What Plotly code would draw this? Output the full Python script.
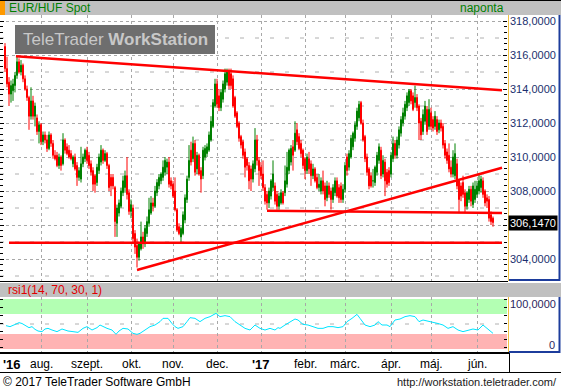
import plotly.graph_objects as go
import pandas as pd

# ---------------- data ----------------
dates = pd.bdate_range("2016-07-06", periods=245)

opens = [316.5, 315.2, 314.4, 313.7, 313.9, 314.2, 314.8, 315.6, 315.0, 315.4,
         314.6, 314.0, 313.5, 312.4, 313.3, 312.4, 312.3, 311.5, 311.9, 310.9,
         311.3, 311.0, 310.5, 311.3, 310.8, 310.1, 310.1, 309.5, 310.0, 309.6,
         311.0, 310.6, 310.4, 310.2, 309.6, 310.0, 309.5, 308.8, 308.7, 309.6,
         309.9, 310.4, 310.1, 309.6, 309.2, 308.9, 308.5, 309.2, 309.7, 310.4,
         309.8, 310.2, 309.5, 308.8, 308.8, 308.2, 306.1, 306.7, 307.1, 307.9,
         308.2, 308.9, 307.9, 306.8, 307.0, 305.5, 304.8, 304.1, 304.6, 305.3,
         304.9, 305.5, 306.1, 306.7, 307.3, 307.1, 307.9, 308.3, 308.6, 308.8,
         309.1, 309.4, 309.7, 308.6, 308.4, 308.0, 306.9, 305.9, 305.3, 305.5,
         306.3, 307.5, 308.8, 310.4, 309.9, 310.8, 309.3, 310.1, 309.2, 308.9,
         310.0, 310.2, 310.4, 311.0, 311.8, 313.0, 314.3, 313.6, 312.9, 313.4,
         314.0, 314.4, 315.0, 314.9, 314.6, 313.5, 312.6, 312.0, 311.2, 310.9,
         310.3, 309.9, 309.5, 309.3, 308.7, 309.3, 311.0, 309.8, 309.4, 309.0,
         308.2, 307.8, 307.3, 307.7, 308.2, 308.3, 307.8, 307.1, 307.3, 307.9,
         307.9, 308.4, 309.2, 309.7, 310.6, 310.4, 311.6, 311.2, 310.8, 310.4,
         309.9, 309.2, 309.9, 309.6, 308.9, 309.3, 308.8, 308.2, 308.0, 308.6,
         308.3, 307.6, 308.3, 308.0, 307.5, 307.9, 308.6, 308.2, 308.3, 307.5,
         308.1, 310.0, 309.4, 310.0, 310.6, 311.1, 311.8, 312.3, 313.2, 312.0,
         311.2, 310.0, 309.3, 308.9, 308.6, 308.5, 309.1, 309.8, 310.4, 309.0,
         309.7, 309.1, 309.2, 309.0, 309.9, 310.8, 310.1, 310.7, 311.4, 312.0,
         312.4, 312.9, 313.2, 313.9, 313.6, 313.2, 313.5, 313.0, 312.1, 311.5,
         312.1, 312.8, 311.8, 312.6, 312.2, 311.8, 312.2, 311.6, 312.0, 311.8,
         310.8, 310.3, 310.1, 309.4, 309.0, 308.9, 309.6, 308.6, 308.3, 308.5,
         307.9, 307.1, 307.5, 308.1, 307.2, 307.5, 307.8, 308.0, 308.2, 308.6,
         308.0, 307.6, 307.5, 306.6, 306.4]

highs = [316.7, 315.9, 314.7, 314.5, 314.6, 315.0, 315.9, 315.8, 315.7, 315.5,
         314.8, 314.2, 313.6, 314.1, 313.6, 313.2, 312.5, 312.1, 312.0, 311.5,
         311.5, 311.3, 311.5, 311.4, 311.0, 310.4, 310.3, 310.2, 310.1, 311.4,
         311.1, 310.8, 310.7, 310.4, 310.1, 310.2, 309.7, 309.4, 310.6, 310.2,
         310.5, 310.6, 310.3, 309.8, 309.4, 309.0, 309.6, 310.2, 310.7, 310.5,
         310.4, 310.3, 309.6, 309.0, 309.0, 308.3, 307.2, 307.5, 308.2, 308.9,
         309.2, 310.0, 308.1, 307.5, 307.2, 305.7, 305.2, 305.0, 306.2, 305.6,
         306.0, 306.5, 307.6, 307.7, 307.6, 308.3, 308.7, 309.0, 309.1, 309.8,
         310.0, 309.9, 310.0, 308.8, 308.6, 308.8, 307.0, 306.1, 305.9, 306.8,
         307.8, 308.9, 310.7, 310.9, 311.2, 311.0, 310.3, 310.2, 309.4, 310.6,
         310.7, 310.8, 311.5, 312.4, 313.4, 314.6, 314.6, 314.0, 314.0, 314.5,
         315.2, 315.2, 315.2, 315.2, 314.8, 313.6, 312.7, 312.1, 311.3, 311.0,
         310.5, 310.0, 309.7, 309.5, 309.8, 311.7, 311.3, 310.0, 309.7, 309.8,
         308.4, 308.0, 308.2, 308.7, 309.8, 308.5, 308.0, 307.9, 308.1, 308.0,
         309.5, 310.3, 310.5, 310.7, 311.0, 312.1, 312.0, 311.4, 311.0, 310.5,
         310.0, 310.2, 310.3, 309.8, 309.6, 309.4, 309.0, 309.0, 308.8, 309.2,
         308.5, 308.6, 308.5, 308.2, 308.4, 308.8, 308.8, 308.4, 308.5, 308.4,
         309.7, 310.2, 310.4, 311.3, 311.5, 312.1, 312.9, 313.3, 313.3, 312.2,
         311.3, 310.2, 309.4, 309.1, 309.3, 309.5, 310.3, 310.8, 310.6, 310.1,
         309.9, 309.3, 309.4, 310.3, 311.2, 311.0, 311.2, 311.8, 312.4, 312.9,
         313.3, 313.8, 314.0, 314.0, 313.8, 314.2, 313.7, 313.1, 312.3, 312.8,
         313.3, 313.0, 313.4, 312.9, 312.4, 312.7, 312.4, 312.2, 312.2, 312.0,
         311.0, 310.5, 310.8, 309.8, 310.4, 310.8, 309.9, 308.7, 308.5, 308.9,
         308.1, 308.0, 308.3, 308.3, 308.5, 308.6, 308.6, 309.0, 308.9, 308.8,
         308.1, 307.8, 307.7, 306.8, 306.5]

lows = [315.0, 314.1, 313.0, 313.2, 313.3, 313.8, 314.6, 314.9, 314.8, 314.4,
        313.9, 313.3, 311.6, 312.2, 312.2, 311.8, 311.3, 310.8, 310.7, 310.7,
        310.8, 310.3, 310.4, 310.6, 309.9, 309.8, 309.4, 309.3, 309.2, 309.5,
        310.2, 310.1, 309.9, 309.8, 309.4, 309.2, 308.3, 308.6, 308.5, 309.4,
        309.7, 309.6, 309.3, 308.9, 308.0, 307.9, 308.3, 309.0, 309.5, 309.6,
        309.7, 309.3, 308.0, 307.7, 308.1, 305.3, 305.3, 306.5, 307.0, 307.7,
        307.9, 307.5, 306.6, 306.4, 305.0, 304.3, 303.5, 303.9, 304.5, 304.6,
        304.7, 305.3, 305.9, 306.6, 306.8, 307.0, 307.7, 308.1, 308.4, 308.6,
        308.9, 309.0, 308.2, 308.1, 307.6, 306.8, 305.6, 305.4, 305.0, 305.4,
        306.1, 307.3, 308.6, 309.5, 309.7, 308.9, 309.0, 308.9, 307.9, 308.7,
        309.8, 310.0, 310.3, 310.9, 311.7, 312.9, 312.9, 312.7, 312.7, 313.2,
        313.8, 314.2, 314.0, 314.0, 312.9, 312.3, 311.7, 310.9, 310.5, 309.9,
        308.8, 309.2, 308.1, 308.0, 308.5, 309.1, 309.5, 308.3, 308.7, 308.0,
        307.2, 306.9, 307.0, 307.5, 308.0, 307.2, 306.9, 306.9, 307.2, 307.2,
        307.7, 308.2, 309.0, 309.5, 309.2, 310.3, 310.7, 310.4, 310.0, 309.3,
        308.7, 309.0, 309.0, 308.3, 308.7, 308.5, 308.1, 308.0, 307.8, 307.8,
        307.1, 307.4, 307.6, 306.9, 307.3, 307.7, 307.6, 307.3, 307.3, 307.3,
        307.9, 308.9, 309.2, 309.9, 310.4, 310.9, 311.6, 312.1, 311.9, 310.9,
        309.7, 308.9, 308.1, 308.2, 308.2, 308.3, 308.9, 309.6, 308.7, 308.8,
        307.7, 308.2, 308.3, 308.8, 309.7, 309.9, 309.9, 310.5, 311.2, 311.8,
        312.2, 312.7, 313.0, 313.1, 312.7, 312.9, 312.7, 311.0, 311.0, 311.3,
        311.9, 311.3, 311.6, 311.6, 311.5, 311.6, 311.3, 311.4, 311.5, 310.5,
        309.9, 309.6, 309.1, 308.8, 308.8, 308.7, 308.1, 306.7, 307.4, 307.6,
        306.7, 306.9, 307.3, 307.1, 307.0, 307.3, 307.6, 307.8, 307.9, 307.6,
        307.1, 307.0, 306.2, 306.0, 305.9]

closes = [315.2, 314.3, 313.7, 314.2, 314.3, 314.8, 315.6, 315.0, 315.4, 314.6,
          314.0, 313.5, 312.4, 313.3, 312.4, 313.0, 311.5, 311.9, 310.9, 311.3,
          311.0, 310.5, 311.3, 310.8, 310.1, 309.9, 309.5, 310.0, 309.5, 311.0,
          310.4, 310.2, 310.0, 309.9, 310.0, 309.3, 308.8, 309.2, 309.6, 310.0,
          310.4, 309.8, 309.5, 309.1, 308.4, 308.4, 309.4, 310.0, 310.4, 309.8,
          310.2, 309.5, 308.2, 308.3, 308.3, 306.2, 307.0, 307.3, 308.0, 308.6,
          308.9, 307.8, 306.8, 307.2, 305.2, 304.7, 304.1, 304.9, 305.3, 304.9,
          305.8, 306.2, 306.9, 307.3, 307.1, 308.0, 308.5, 308.8, 309.0, 309.4,
          309.8, 309.7, 308.4, 308.3, 307.7, 306.9, 305.7, 305.5, 305.8, 306.6,
          307.6, 308.7, 309.8, 309.7, 310.8, 309.1, 310.1, 309.0, 308.7, 310.4,
          310.5, 310.6, 311.3, 312.1, 313.2, 314.3, 313.1, 312.9, 313.8, 314.3,
          314.9, 315.0, 314.2, 314.2, 313.0, 312.4, 311.8, 311.1, 310.7, 310.1,
          309.4, 309.5, 308.6, 308.7, 309.6, 311.0, 309.8, 309.2, 308.9, 308.2,
          307.4, 307.3, 308.0, 308.6, 309.0, 307.4, 307.1, 307.7, 307.9, 307.3,
          308.6, 309.4, 310.4, 310.5, 310.1, 311.4, 310.9, 310.5, 310.2, 309.5,
          309.2, 310.0, 309.3, 308.9, 309.3, 308.6, 308.2, 308.4, 308.6, 308.0,
          307.5, 308.3, 307.8, 307.5, 308.2, 308.6, 307.7, 307.6, 307.5, 308.1,
          309.5, 309.2, 310.2, 311.1, 311.4, 311.9, 312.7, 313.1, 312.0, 311.0,
          309.9, 309.1, 308.3, 308.3, 308.6, 309.4, 310.1, 310.6, 308.9, 309.8,
          308.6, 308.4, 308.5, 310.1, 310.8, 310.1, 311.0, 311.6, 312.2, 312.6,
          313.1, 313.6, 313.9, 313.3, 312.8, 313.5, 312.9, 312.0, 311.3, 312.5,
          313.0, 311.5, 312.8, 311.8, 311.7, 312.4, 311.5, 312.0, 311.7, 310.7,
          310.1, 309.8, 309.3, 309.0, 310.0, 310.2, 308.3, 307.5, 307.7, 307.8,
          307.1, 307.9, 308.1, 307.4, 308.3, 308.1, 308.3, 308.6, 308.7, 307.8,
          307.3, 307.4, 306.4, 306.2, 306.147]

# RSI(14) line, read at sampled candle positions
rsi_pos = [0.5, 2.5, 5, 7, 8.5, 10, 12, 13.5, 15, 16.5, 18.5, 20, 21.5, 23.5, 26, 28.5, 30, 31.5,
           34, 36.5, 39, 41, 43.5, 46, 47.5, 49, 51, 53.5, 55.5, 57, 59, 61.5, 64, 66, 67.5, 70,
           72.5, 75, 77.5, 79, 81.5, 83.5, 85, 86.5, 89, 91, 92.5, 95, 97.5, 100, 102.5, 105.5,
           107.5, 110, 112.5, 115, 117.5, 120, 122.5, 125, 127.5, 130, 132.5, 135, 136.5, 137.5,
           140, 142.5, 145, 146.5, 149, 151.5, 154, 156.5, 159, 161.5, 164, 166.5, 169, 171,
           173.5, 176, 177.5, 180, 182.5, 185, 186.5, 188.5, 191, 192.5, 195, 197.5, 200, 202.5,
           205, 207, 209, 211.5, 214, 216.5, 219, 221.5, 224, 226.5, 229, 231.5, 234, 236.5,
           239, 241, 243.5, 244]
rsi_val = [46.7, 44.7, 49, 52.7, 51, 48, 42.7, 44.7, 39.3, 36, 34.7, 40, 41.3, 38, 34.7, 40, 38, 36,
           34.7, 33.3, 41.3, 44.7, 38, 42.7, 48, 44.7, 41.3, 38, 29.3, 36, 41.3, 40, 31.3, 29.3, 31.3, 38,
           44.7, 48, 54.7, 61.3, 61.3, 51, 44.7, 41.3, 44.7, 54.7, 62.7, 61.3, 54.7, 61.3, 64.7, 71.3,
           64.7, 66.7, 64.7, 54.7, 48, 41.3, 38, 48, 41.3, 38, 41.3, 38, 42.7, 41.3,
           48, 54.7, 60, 58, 49.3, 48, 44.7, 41.3, 41.3, 44.7, 44.7, 42.7, 44.7, 54.7,
           61.3, 69.3, 61.3, 48, 44.7, 48, 54.7, 48, 48, 44.7, 58, 60, 64.7, 66.7,
           64.7, 54.7, 58, 56, 52.7, 51, 48, 41.3, 44.7, 38, 34.7, 38, 40, 38,
           48, 41.3, 31.3, 31.3]

# trend lines drawn on the chart: (candle position, price) end points
trend_top = [(5.5, 315.93), (248.5, 313.93)]
trend_up = [(66, 303.35), (248.5, 309.37)]
support_low = [(2, 304.96), (248.5, 304.96)]
support_mid = [(131, 306.84), (248.5, 306.70)]

price_ticks = [304, 306, 308, 310, 312, 314, 316, 318]
month_names = {7: "'16", 8: "aug.", 9: "szept.", 10: "okt.", 11: "nov.", 12: "dec.",
               1: "'17", 2: "febr.", 3: "márc.", 4: "ápr.", 5: "máj.", 6: "jún."}
last_price = 306.147

# ---------------- layout helpers ----------------
W, H = 561, 390
FONT = "Liberation Sans, Arial, sans-serif"
Y_RANGE = [302.706, 318.353]


def px(x):
    return x / W


def py(y):
    return 1 - y / H


idx = list(range(len(closes)))
month_pos = []
month_lab = []
prev = None
for i, d in enumerate(dates):
    if d.month != prev:
        if i > 0:
            month_pos.append(i)
            month_lab.append(month_names[d.month])
        prev = d.month

X_RANGE = [-2.5, 251]
PLOT_R = 507

fig = go.Figure()
fig.add_trace(go.Candlestick(
    x=idx, open=opens, high=highs, low=lows, close=closes,
    increasing=dict(line=dict(color="#008000", width=1), fillcolor="#008000"),
    decreasing=dict(line=dict(color="#ff0000", width=1), fillcolor="#ff0000"),
    whiskerwidth=0, hoverinfo="skip", xaxis="x", yaxis="y", showlegend=False))
fig.add_trace(go.Scatter(
    x=rsi_pos, y=rsi_val, mode="lines", line=dict(color="#00e5ff", width=1),
    hoverinfo="skip", xaxis="x2", yaxis="y2", showlegend=False))

shapes = []
# header bars
shapes.append(dict(type="rect", xref="paper", yref="paper", x0=0, x1=1, y0=py(15), y1=py(0),
                   fillcolor="#c0c0c0", line=dict(width=0), layer="below"))
shapes.append(dict(type="rect", xref="paper", yref="paper", x0=0, x1=px(5), y0=py(15), y1=py(0),
                   fillcolor="#ff9900", line=dict(width=0), layer="below"))
shapes.append(dict(type="line", xref="paper", yref="paper", x0=0, x1=1, y0=py(0.5), y1=py(0.5),
                   line=dict(color="black", width=1)))
shapes.append(dict(type="rect", xref="paper", yref="paper", x0=0, x1=1, y0=py(297), y1=py(283),
                   fillcolor="#c0c0c0", line=dict(width=0), layer="below"))
# rsi bands
shapes.append(dict(type="rect", xref="x2 domain", yref="y2", x0=0, x1=1, y0=70, y1=100,
                   fillcolor="#b3ffb3", line=dict(width=0), layer="below"))
shapes.append(dict(type="rect", xref="x2 domain", yref="y2", x0=0, x1=1, y0=0, y1=30,
                   fillcolor="#ffb3b3", line=dict(width=0), layer="below"))
shapes.append(dict(type="line", xref="x2 domain", yref="y2", x0=0, x1=1, y0=50, y1=50,
                   line=dict(color="#b0b0b0", width=1, dash="4px,11px"), layer="below"))
# odd-value dashed gridlines
for v in [303, 305, 307, 309, 311, 313, 315, 317]:
    shapes.append(dict(type="line", xref="x domain", yref="y", x0=0, x1=1, y0=v, y1=v,
                       line=dict(color="#b0b0b0", width=1, dash="4px,11px"), layer="below"))
# watermark box
shapes.append(dict(type="rect", xref="paper", yref="paper", x0=px(15), x1=px(215), y0=py(54), y1=py(25),
                   fillcolor="#6e6e6e", line=dict(width=0), layer="above"))
# trend lines
for seg in (trend_top, trend_up, support_low, support_mid):
    (xa, ya), (xb, yb) = seg
    shapes.append(dict(type="line", xref="x", yref="y", x0=xa, x1=xb, y0=ya, y1=yb,
                       line=dict(color="#ff0000", width=2.5), layer="above"))
# right label panels: gold left edge, blue right / bottom edges
GOLD, BLUE = "#f0c040", "#1c3c9c"
for top, bot in ((15, 281), (297, 353)):
    shapes.append(dict(type="line", xref="paper", yref="paper", x0=px(508.5), x1=px(508.5),
                       y0=py(bot), y1=py(top), line=dict(color=GOLD, width=1)))
    shapes.append(dict(type="line", xref="paper", yref="paper", x0=px(559.5), x1=px(559.5),
                       y0=py(bot), y1=py(top), line=dict(color=BLUE, width=2)))
    shapes.append(dict(type="line", xref="paper", yref="paper", x0=px(509), x1=px(560),
                       y0=py(bot - 1), y1=py(bot - 1), line=dict(color=BLUE, width=2)))
# separators
shapes.append(dict(type="line", xref="paper", yref="paper", x0=0, x1=px(508), y0=py(281.5), y1=py(281.5),
                   line=dict(color="black", width=1)))
shapes.append(dict(type="line", xref="paper", yref="paper", x0=0, x1=px(509), y0=py(353), y1=py(353),
                   line=dict(color="black", width=2)))
shapes.append(dict(type="line", xref="paper", yref="paper", x0=0, x1=1, y0=py(372.5), y1=py(372.5),
                   line=dict(color="black", width=1)))
shapes.append(dict(type="line", xref="paper", yref="paper", x0=px(509.5), x1=px(509.5), y0=py(372), y1=py(353),
                   line=dict(color="black", width=1)))

ann = []
ann.append(dict(text="EUR/HUF Spot", x=px(7), y=py(7.5), xref="paper", yref="paper", xanchor="left",
                yanchor="middle", showarrow=False, font=dict(family=FONT, size=12, color="#008000")))
ann.append(dict(text="naponta", x=px(506), y=py(7.5), xref="paper", yref="paper", xanchor="right",
                yanchor="middle", showarrow=False, font=dict(family=FONT, size=12, color="#008000")))
ann.append(dict(text="rsi1(14, 70, 30, 1)", x=px(6), y=py(290), xref="paper", yref="paper",
                xanchor="left", yanchor="middle", showarrow=False,
                font=dict(family=FONT, size=12, color="#e00000")))
ann.append(dict(text="TeleTrader <b>WorkStation</b>", x=px(115), y=py(40), xref="paper", yref="paper",
                xanchor="center", yanchor="middle", showarrow=False,
                font=dict(family=FONT, size=17, color="#c8c8c8")))
for pos, lab in zip(month_pos, month_lab):
    bold = lab.startswith("'")
    ann.append(dict(text=f"<b>{lab}</b>" if bold else lab, x=pos, y=py(364), xref="x", yref="paper",
                    xanchor="center", yanchor="middle", showarrow=False,
                    font=dict(family=FONT, size=13 if bold else 12, color="black")))
ann.append(dict(text="<b>'16</b>", x=px(11.5), y=py(364), xref="paper", yref="paper", xanchor="center",
                yanchor="middle", showarrow=False, font=dict(family=FONT, size=13, color="black")))
# price axis labels (right panel); the 306 label sits under the last-price box
for v in price_ticks:
    if abs(v - last_price) < 0.5:
        continue
    ann.append(dict(text=f"{v:.4f}".replace(".", ","), x=px(558), y=v, xref="paper", yref="y",
                    xanchor="right", yanchor="middle", showarrow=False,
                    font=dict(family=FONT, size=11, color="#1a2f6e")))
ann.append(dict(text="100,0000", x=px(558), y=py(304), xref="paper", yref="paper", xanchor="right",
                yanchor="middle", showarrow=False, font=dict(family=FONT, size=11, color="#2b1f5e")))
ann.append(dict(text="0", x=px(557), y=py(345), xref="paper", yref="paper", xanchor="right",
                yanchor="middle", showarrow=False, font=dict(family=FONT, size=11, color="#2b1f5e")))
ann.append(dict(text="306,1470", x=px(558), y=last_price, xref="paper", yref="y", xanchor="right",
                yanchor="middle", showarrow=False, bgcolor="black", borderpad=1,
                font=dict(family=FONT, size=11, color="white")))
ann.append(dict(text="© 2017 TeleTrader Software GmbH", x=px(1), y=py(381.5), xref="paper", yref="paper",
                xanchor="left", yanchor="middle", showarrow=False,
                font=dict(family=FONT, size=12, color="black")))
ann.append(dict(text="http://workstation.teletrader.com/", x=px(559), y=py(381.5), xref="paper",
                yref="paper", xanchor="right", yanchor="middle", showarrow=False,
                font=dict(family=FONT, size=11, color="#202020")))

minor_vals = [302 + k / 3 for k in range(0, 50)]

fig.update_layout(
    width=W, height=H, autosize=False, margin=dict(l=0, r=0, t=0, b=0),
    paper_bgcolor="white", plot_bgcolor="white", showlegend=False,
    separators=", ", font=dict(family=FONT),
    shapes=shapes, annotations=ann,
    xaxis=dict(domain=[0, px(PLOT_R)], range=X_RANGE, tickmode="array", tickvals=month_pos,
               showticklabels=False, showgrid=True, gridcolor="#a8a8a8", griddash="dot",
               zeroline=False, showline=False, ticks="", rangeslider=dict(visible=False),
               anchor="y", fixedrange=True),
    xaxis2=dict(domain=[0, px(PLOT_R)], range=X_RANGE, tickmode="array", tickvals=month_pos,
                showticklabels=False, showgrid=True, gridcolor="#a8a8a8", griddash="dot",
                zeroline=False, showline=False, ticks="", anchor="y2", matches="x"),
    yaxis=dict(domain=[py(281), py(15)], range=Y_RANGE, side="right",
               tickmode="array", tickvals=price_ticks, showticklabels=False,
               showgrid=True, gridcolor="#a8a8a8", griddash="dot", zeroline=False,
               showline=False, mirror="ticks", ticks="inside", ticklen=4, tickcolor="black",
               minor=dict(tickmode="array", tickvals=minor_vals, ticks="inside", ticklen=3,
                          tickcolor="black", showgrid=False),
               anchor="x"),
    yaxis2=dict(domain=[py(353), py(297)], range=[-8, 104], side="right",
                tickmode="array", tickvals=[4, 20, 36, 52, 68, 84, 100], showticklabels=False,
                showgrid=False, zeroline=False, showline=False, mirror="ticks", ticks="inside",
                ticklen=3, tickcolor="black", anchor="x2"),
)

fig.write_html("out.html", config={"displayModeBar": False},
               post_script="document.body.style.margin='0px';document.body.style.padding='0px';"
                           "document.body.style.overflow='hidden';")
